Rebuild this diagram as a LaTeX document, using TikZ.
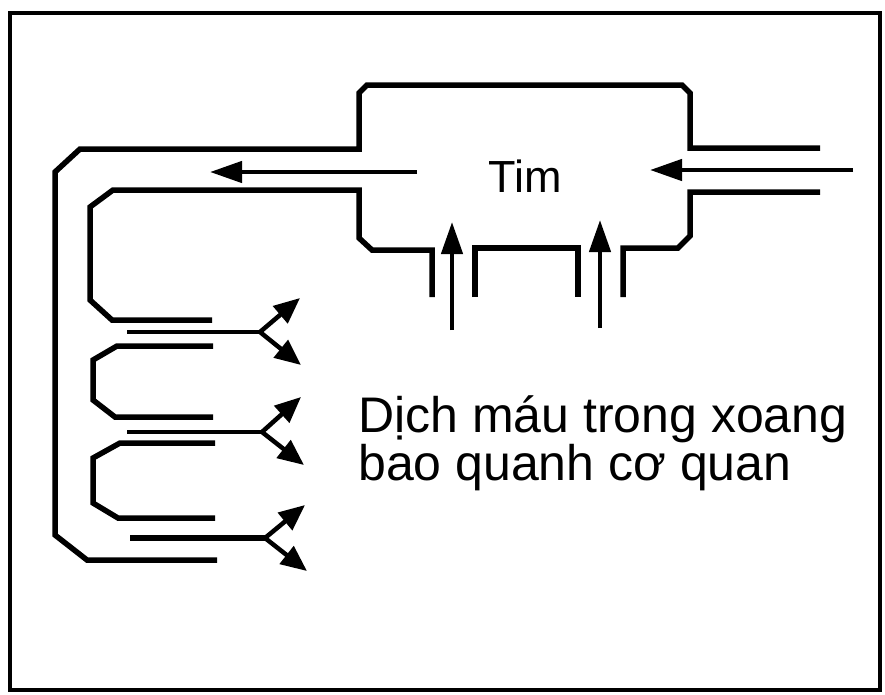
\documentclass[tikz,border=0pt]{standalone}
\usepackage{fontspec}
\setmainfont{Liberation Sans}
\usetikzlibrary{arrows.meta}

\begin{document}
\begin{tikzpicture}[x=1pt, y=-1pt,
    boxline/.style={line width=3.5pt},
    wall/.style={line width=5.5pt, line join=miter},
    flow/.style={line width=4.5pt, -{Triangle[length=32pt,width=21pt]}},
    capil/.style={line width=4pt},
    spray/.style={line width=4.5pt, -{Triangle[length=26pt,width=22pt]}},
    note/.style={font=\fontsize{50}{48}\selectfont, align=left, inner sep=0pt}
]
    \useasboundingbox (0,0) rectangle (885,694);

    % Frame
    \draw[boxline] (10,13) rectangle (880,690);

    % Heart with outgoing vessel
    \draw[wall] (820,148) -- (690,148) -- (690,93) -- (682,85) -- (367,85) -- (359,93)
        -- (359,149) -- (80,149) -- (55,172) -- (55,535) -- (87,560) -- (217,560);
    \draw[wall] (212,320) -- (112,320) -- (90,300) -- (90,207) -- (113,190) -- (359,190)
        -- (359,238) -- (372,250) -- (432,250) -- (432,297);
    \draw[wall] (475,297) -- (475,248) -- (578,248) -- (578,297);
    \draw[wall] (623,297) -- (623,248) -- (678,248) -- (690,236) -- (690,192) -- (820,192);

    % Loops round the organ
    \draw[wall] (213,346) -- (117,346) -- (93,360) -- (93,400) -- (115,417) -- (213,417);
    \draw[wall] (215,443) -- (120,443) -- (93,458) -- (93,503) -- (118,518) -- (215,518);

    % Labels
    \node[font=\fontsize{45}{48}\selectfont, inner sep=0pt, anchor=base] (tim) at (525,192) {Tim};
    \node[note, anchor=base west] (blood) at (358,480) {Dịch máu trong xoang\\bao quanh cơ quan};

    % Flow through the heart
    \coordinate (inR) at (853,170);
    \coordinate (inL1) at (452,330);
    \coordinate (inL2) at (600,328);
    \coordinate (outL) at (417,172);
    \draw[flow] (inR) -- (650,170);
    \draw[flow] (inL1) -- (452,222);
    \draw[flow] (inL2) -- (600,220);
    \draw[flow] (outL) -- (210,172);

    % Open ends of the vessels
    \coordinate (br1) at (260,332);
    \coordinate (br2) at (262,432);
    \coordinate (br3) at (265,538);
    \draw[capil] (127,332) -- (br1);
    \draw[capil] (127,432) -- (br2);
    \draw[wall] (130,538) -- (br3);
    \draw[spray] (br1) -- (300,298);
    \draw[spray] (br1) -- (301,365);
    \draw[spray] (br2) -- (301,397);
    \draw[spray] (br2) -- (304,465);
    \draw[spray] (br3) -- (305,505);
    \draw[spray] (br3) -- (307,571);
\end{tikzpicture}
\end{document}
